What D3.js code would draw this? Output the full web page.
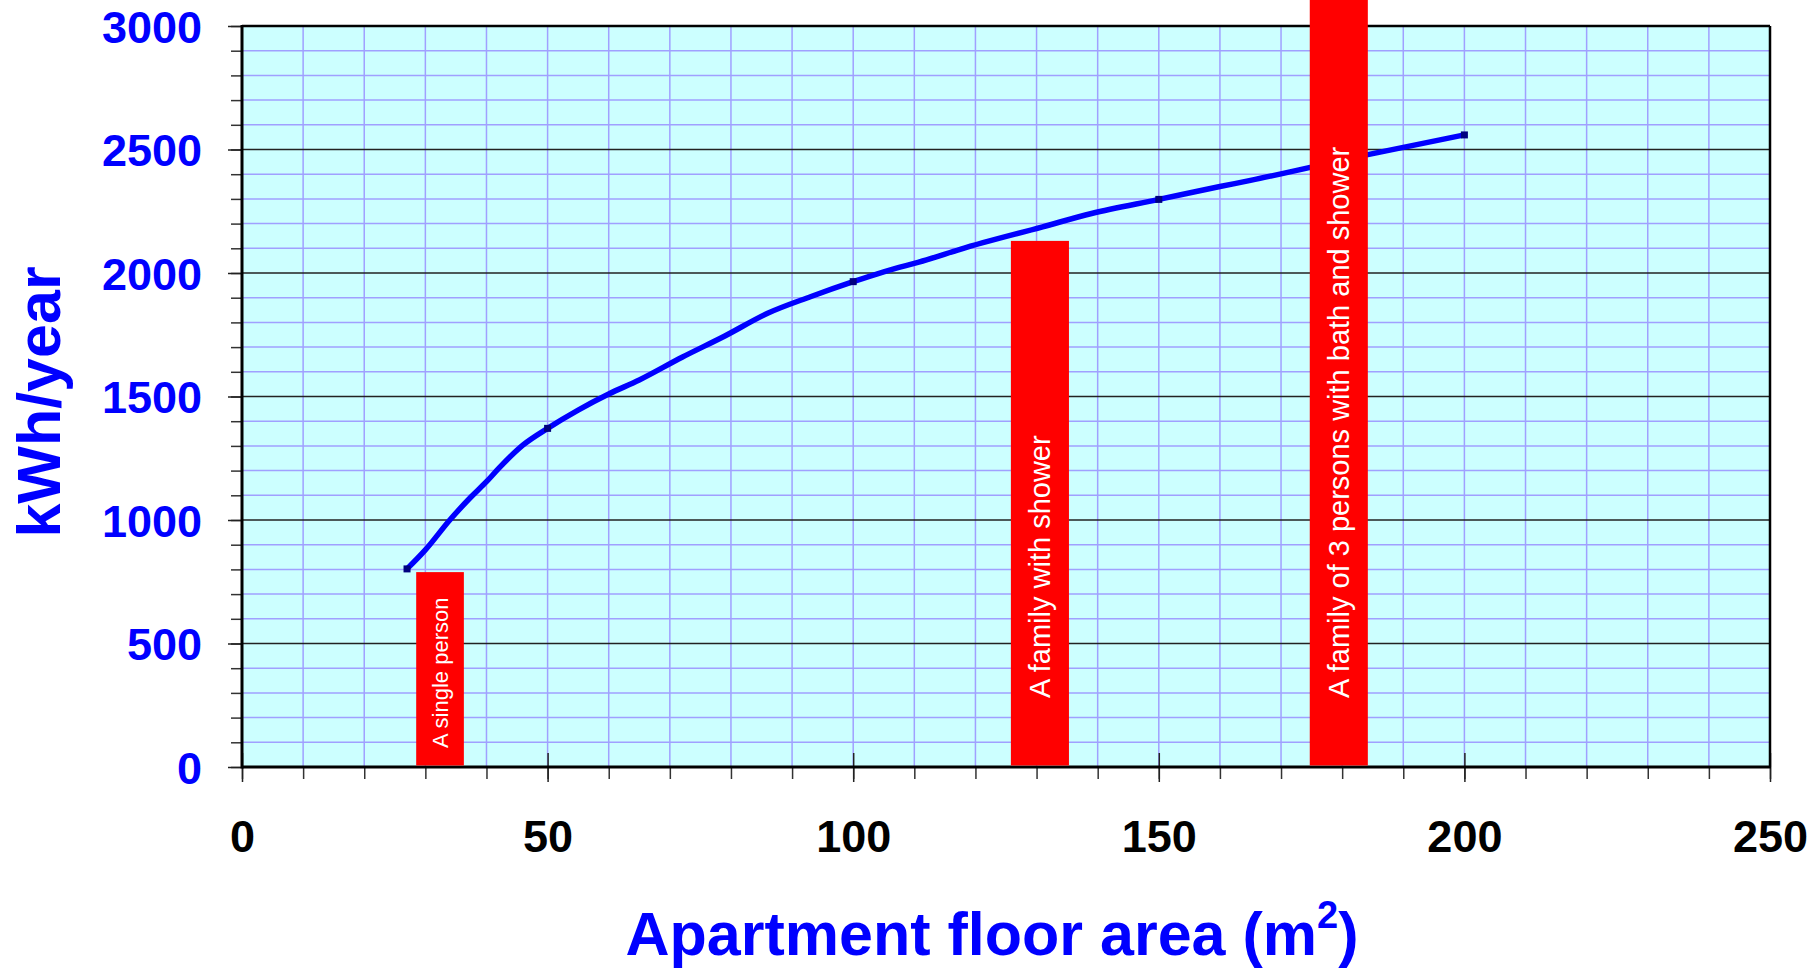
<!DOCTYPE html>
<html>
<head>
<meta charset="utf-8">
<script src="https://cdn.jsdelivr.net/npm/d3@7"></script>
<style>
  html, body { margin: 0; padding: 0; background: #ffffff; }
  svg { display: block; }
  text { font-family: "Liberation Sans", Arial, sans-serif; }
</style>
</head>
<body>
<svg id="chart" width="1818" height="969"></svg>
<script>
// ---- Data ----
const lineArea = [27, 30, 34, 37.5, 40, 42, 46, 50, 55, 60, 65, 72, 79, 86, 93, 100, 105, 112, 117.5, 131, 139, 150, 160, 165, 184, 200];
const lineKwh  = [802, 879, 1000, 1094, 1155, 1209, 1304, 1371, 1445, 1510, 1567, 1659, 1745, 1837, 1904, 1965, 2005, 2053, 2096, 2187, 2241, 2298, 2350, 2375, 2478, 2559];
const markerArea = [27, 50, 100, 150, 200];
const markerKwh  = [802, 1371, 1965, 2298, 2559];

const barLabels = ["A single person", "A family with shower", "A family of 3 persons with bath and shower"];
const barStart  = [28.5, 125.8, 174.7];
const barEnd    = [36.3, 135.3, 184.2];
const barKwh    = [789, 2130, 3150];

const yMajorTicks = [0, 500, 1000, 1500, 2000, 2500, 3000];
const xMajorTicks = [0, 50, 100, 150, 200, 250];

// ---- Layout ----
const L = 242, R = 1770, T = 26, B = 767;
const labelFont = [22, 29, 29];
const labelStartKwh = [77, 279, 279];

const svg = d3.select("#chart");
const x = d3.scaleLinear().domain([0, 250]).range([L, R]);
const y = d3.scaleLinear().domain([0, 3000]).range([B, T]);

// background
svg.append("rect").attr("x", L).attr("y", T).attr("width", R - L).attr("height", B - T).attr("fill", "#ccffff");

// grid
const minorY = d3.range(100, 3000, 100).filter(v => v % 500 !== 0);
svg.append("g").selectAll("line").data(minorY).join("line")
  .attr("x1", L).attr("x2", R).attr("y1", d => y(d)).attr("y2", d => y(d))
  .attr("stroke", "#a0a0ff").attr("stroke-width", 1.5);
const vGrid = d3.range(10, 250, 10);
svg.append("g").selectAll("line").data(vGrid).join("line")
  .attr("y1", T).attr("y2", B).attr("x1", d => x(d)).attr("x2", d => x(d))
  .attr("stroke", "#a0a0ff").attr("stroke-width", 1.5);
svg.append("g").selectAll("line").data(yMajorTicks.filter(v => v > 0 && v < 3000)).join("line")
  .attr("x1", L).attr("x2", R).attr("y1", d => y(d)).attr("y2", d => y(d))
  .attr("stroke", "#222").attr("stroke-width", 1.5);

// Y axis ticks
const yMinorAxis = d3.axisLeft(y).tickValues(d3.range(0, 3001, 100)).tickSize(11).tickFormat("");
const gyMinor = svg.append("g").attr("transform", `translate(${L},0)`).call(yMinorAxis);
gyMinor.select(".domain").remove();
gyMinor.selectAll("line").attr("stroke", "#333").attr("stroke-width", 1.5);

const yAxis = d3.axisLeft(y).tickValues(yMajorTicks).tickSize(14).tickPadding(26).tickFormat(d3.format("d"));
const gy = svg.append("g").attr("transform", `translate(${L},0)`).call(yAxis);
gy.select(".domain").remove();
gy.selectAll("line").attr("stroke", "#222").attr("stroke-width", 1.5);
gy.selectAll("text").attr("fill", "#0000ff").attr("font-size", 45).attr("font-weight", "bold")
  .attr("font-family", "'Liberation Sans', Arial, sans-serif").attr("dy", "0.36em");

// X axis ticks
const xMinorAxis = d3.axisBottom(x).tickValues(d3.range(0, 251, 10)).tickSize(12).tickFormat("");
const gxMinor = svg.append("g").attr("transform", `translate(0,${B})`).call(xMinorAxis);
gxMinor.select(".domain").remove();
gxMinor.selectAll("line").attr("stroke", "#333").attr("stroke-width", 1.5);

const xAxis = d3.axisBottom(x).tickValues(xMajorTicks).tickSize(15).tickPadding(38).tickFormat(d3.format("d"));
const gx = svg.append("g").attr("transform", `translate(0,${B})`).call(xAxis);
gx.select(".domain").remove();
gx.selectAll(".tick line").attr("y1", -14).attr("stroke", "#222").attr("stroke-width", 1.5);
gx.selectAll("text").attr("fill", "#000").attr("font-size", 45).attr("font-weight", "bold")
  .attr("font-family", "'Liberation Sans', Arial, sans-serif");

// border
svg.append("line").attr("x1", L).attr("x2", R).attr("y1", T).attr("y2", T).attr("stroke", "#000").attr("stroke-width", 2.5);
svg.append("line").attr("x1", R).attr("x2", R).attr("y1", T).attr("y2", B).attr("stroke", "#000").attr("stroke-width", 2.5);
svg.append("line").attr("x1", L).attr("x2", L).attr("y1", T - 1).attr("y2", B + 1.5).attr("stroke", "#000").attr("stroke-width", 3);
svg.append("line").attr("x1", L).attr("x2", R + 1).attr("y1", B).attr("y2", B).attr("stroke", "#000").attr("stroke-width", 3);

// line
const pts = lineArea.map((a, i) => [a, lineKwh[i]]);
const lineGen = d3.line().x(d => x(d[0])).y(d => y(d[1])).curve(d3.curveMonotoneX);
svg.append("path").attr("d", lineGen(pts)).attr("fill", "none")
  .attr("stroke", "#0000ff").attr("stroke-width", 5.5).attr("stroke-linejoin", "round").attr("stroke-linecap", "round");

// markers
svg.append("g").selectAll("rect").data(markerArea.map((a, i) => [a, markerKwh[i]])).join("rect")
  .attr("x", d => x(d[0]) - 3.5).attr("y", d => y(d[1]) - 3.5).attr("width", 7).attr("height", 7)
  .attr("fill", "#000080");

// bars
const bars = barLabels.map((lab, i) => ({ lab, x0: barStart[i], x1: barEnd[i], v: barKwh[i], i }));
svg.append("g").selectAll("rect").data(bars).join("rect")
  .attr("x", d => x(d.x0)).attr("width", d => x(d.x1) - x(d.x0))
  .attr("y", d => y(d.v)).attr("height", d => y(0) - y(d.v) - 1.5)
  .attr("fill", "#ff0000");

svg.append("g").selectAll("text").data(bars).join("text")
  .attr("transform", d => `translate(${(x(d.x0) + x(d.x1)) / 2},${y(labelStartKwh[d.i])}) rotate(-90)`)
  .attr("dy", "0.36em")
  .attr("text-anchor", "start")
  .attr("fill", "#ffffff")
  .attr("font-size", d => labelFont[d.i])
  .text(d => d.lab);

// axis titles
svg.append("text")
  .attr("transform", "translate(60,402) rotate(-90)")
  .attr("text-anchor", "middle")
  .attr("fill", "#0000ff").attr("font-size", 61).attr("font-weight", "bold")
  .text("kWh/year");

const xt = svg.append("text")
  .attr("x", 992).attr("y", 955)
  .attr("text-anchor", "middle")
  .attr("fill", "#0000ff").attr("font-size", 61).attr("font-weight", "bold");
xt.append("tspan").text("Apartment floor area (m");
xt.append("tspan").attr("font-size", 38).attr("dy", -27).text("2");
xt.append("tspan").attr("dy", 27).text(")");
</script>
</body>
</html>
